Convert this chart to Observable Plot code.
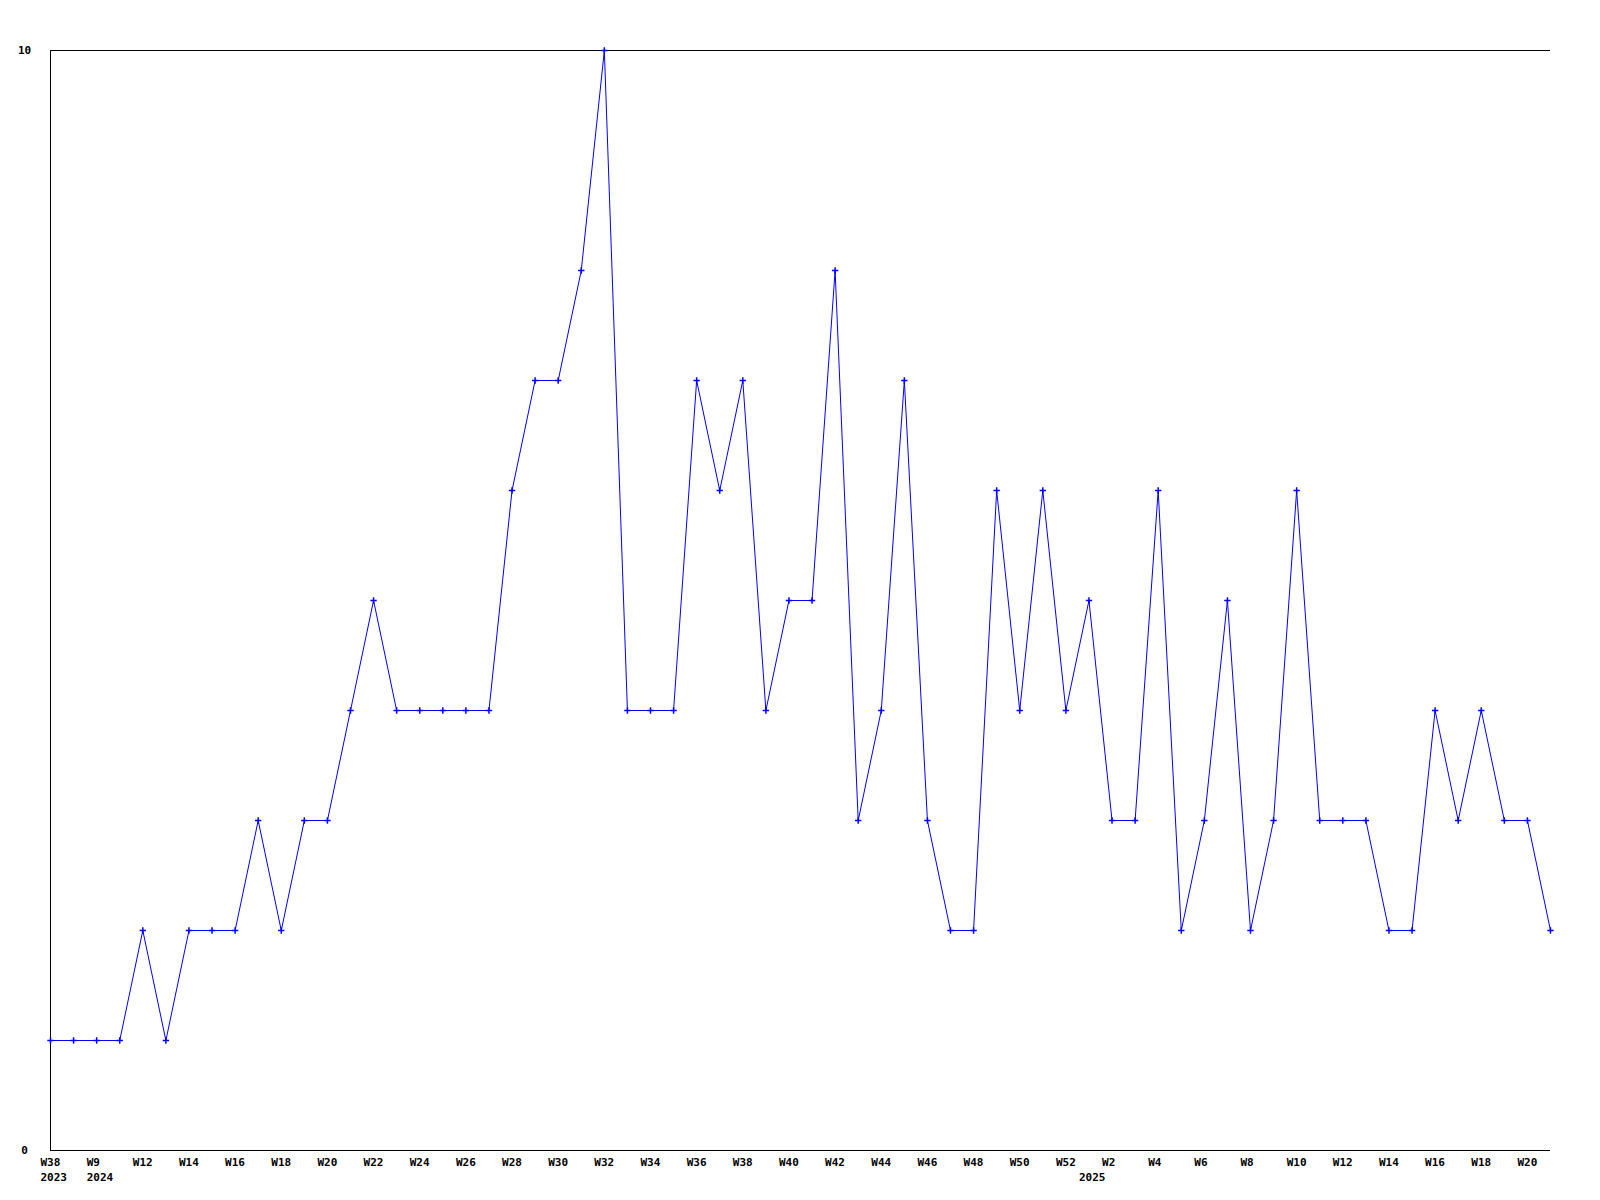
<!DOCTYPE html>
<html>
<head>
<meta charset="utf-8">
<script src="https://cdn.jsdelivr.net/npm/d3@7"></script>
<script src="https://cdn.jsdelivr.net/npm/@observablehq/plot@0.6"></script>
<style>
  html, body { margin: 0; padding: 0; background: #fff; }
  svg { display: block; }
</style>
</head>
<body>
<div id="chart"></div>
<script>
const weeks = ["W38","W39","W9","W10","W12","W13","W14","W15","W16","W17","W18","W19","W20","W21","W22","W23","W24","W25","W26","W27","W28","W29","W30","W31","W32","W33","W34","W35","W36","W37","W38","W39","W40","W41","W42","W43","W44","W45","W46","W47","W48","W49","W50","W51","W52","W1","W2","W3","W4","W5","W6","W7","W8","W9","W10","W11","W12","W13","W14","W15","W16","W17","W18","W19","W20","W21"];
const years = ["2023","2023","2024","2024","2024","2024","2024","2024","2024","2024","2024","2024","2024","2024","2024","2024","2024","2024","2024","2024","2024","2024","2024","2024","2024","2024","2024","2024","2024","2024","2024","2024","2024","2024","2024","2024","2024","2024","2024","2024","2024","2024","2024","2024","2024","2025","2025","2025","2025","2025","2025","2025","2025","2025","2025","2025","2025","2025","2025","2025","2025","2025","2025","2025","2025","2025"];
const values = [1,1,1,1,2,1,2,2,2,3,2,3,3,4,5,4,4,4,4,4,6,7,7,8,10,4,4,4,7,6,7,4,5,5,8,3,4,7,3,2,2,6,4,6,4,5,3,3,6,2,3,5,2,3,6,3,3,3,2,2,4,3,4,3,3,2];
const yTicks = [0, 10];

const data = values.map((v, i) => ({i, week: weeks[i], year: years[i], value: v}));
const weekLabels = data.filter(d => d.i % 2 === 0);
const yearLabels = data.filter((d, k) => k === 0 || d.year !== data[k - 1].year);

const font = "bold 11px 'DejaVu Sans Mono', 'Liberation Mono', monospace";

const chart = Plot.plot({
  width: 1600,
  height: 1200,
  marginLeft: 50,
  marginRight: 50,
  marginTop: 50,
  marginBottom: 50,
  style: {font, background: "#fff", color: "#000"},
  x: {type: "point", domain: data.map(d => d.i), padding: 0, round: false, axis: null},
  y: {domain: [0, 10], axis: null},
  marks: [
    Plot.ruleY([0, 10], {stroke: "#000", strokeWidth: 1}),
    Plot.ruleX([0], {stroke: "#000", strokeWidth: 1}),
    Plot.line(data, {x: "i", y: "value", stroke: "#0000ff", strokeWidth: 1}),
    Plot.dot(data, {x: "i", y: "value", symbol: "plus", r: 2.2, stroke: "#0000ff", strokeWidth: 1.5}),
    Plot.text(yTicks, {y: d => d, frameAnchor: "left", dx: -26, text: d => String(d), textAnchor: "middle", lineAnchor: "middle", fill: "#000"}),
    Plot.text(weekLabels, {x: "i", frameAnchor: "bottom", dx: -10, dy: 12, text: "week", textAnchor: "start", lineAnchor: "middle", fill: "#000"}),
    Plot.text(yearLabels, {x: "i", frameAnchor: "bottom", dx: -10, dy: 27, text: "year", textAnchor: "start", lineAnchor: "middle", fill: "#000"})
  ]
});
document.getElementById("chart").appendChild(chart);
</script>
</body>
</html>
